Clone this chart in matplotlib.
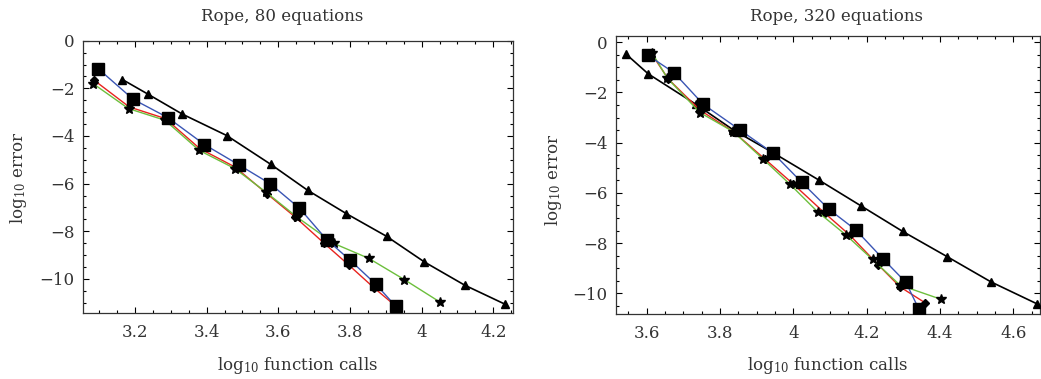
import matplotlib
matplotlib.use("Agg")
import matplotlib.pyplot as plt
from matplotlib.ticker import MultipleLocator

plt.rcParams['font.family'] = ['DejaVu Serif']
plt.rcParams['mathtext.fontset'] = 'dejavuserif'

# Rope, 80 equations
x80_tri = [3.165, 3.237, 3.332, 3.456, 3.579, 3.682, 3.790, 3.902, 4.008, 4.120, 4.234]
y80_tri = [-1.63, -2.25, -3.08, -3.98, -5.19, -6.28, -7.26, -8.21, -9.29, -10.26, -11.07]
x80_sq = [3.097, 3.195, 3.292, 3.394, 3.491, 3.578, 3.659, 3.735, 3.801, 3.872, 3.928]
y80_sq = [-1.17, -2.46, -3.23, -4.36, -5.22, -6.01, -7.03, -8.35, -9.22, -10.22, -11.15]
x80_dia = [3.086, 3.184, 3.285, 3.381, 3.479, 3.568, 3.647, 3.727, 3.797, 3.866, 3.935]
y80_dia = [-1.66, -2.78, -3.27, -4.53, -5.30, -6.42, -7.40, -8.49, -9.42, -10.36, -11.23]
x80_star = [3.083, 3.182, 3.284, 3.379, 3.479, 3.565, 3.652, 3.755, 3.853, 3.952, 4.050]
y80_star = [-1.80, -2.85, -3.34, -4.60, -5.37, -6.35, -7.40, -8.51, -9.14, -10.03, -10.96]

# Rope, 320 equations
x320_tri = [3.544, 3.604, 3.734, 3.836, 3.947, 4.071, 4.184, 4.298, 4.420, 4.539, 4.664]
y320_tri = [-0.48, -1.26, -2.47, -3.49, -4.42, -5.50, -6.51, -7.53, -8.54, -9.54, -10.41]
x320_sq = [3.602, 3.674, 3.754, 3.854, 3.945, 4.023, 4.097, 4.171, 4.245, 4.307, 4.343]
y320_sq = [-0.51, -1.21, -2.47, -3.49, -4.42, -5.58, -6.65, -7.48, -8.63, -9.56, -10.64]
x320_dia = [3.612, 3.659, 3.745, 3.836, 3.923, 4.000, 4.086, 4.154, 4.232, 4.291, 4.359]
y320_dia = [-0.44, -1.47, -2.70, -3.56, -4.66, -5.65, -6.81, -7.68, -8.87, -9.74, -10.37]
x320_star = [3.614, 3.656, 3.745, 3.836, 3.918, 3.991, 4.066, 4.144, 4.216, 4.291, 4.402]
y320_star = [-0.41, -1.43, -2.80, -3.56, -4.66, -5.66, -6.75, -7.68, -8.65, -9.67, -10.23]

titles = ["Rope, 80 equations", "Rope, 320 equations"]

blue = "#3a55b4"
red = "#e8231e"
green = "#6cbf3c"

W, H = 1041, 379
fig = plt.figure(figsize=(W / 100, H / 100), dpi=100)


def px_axes(x0, y0, x1, y1):
    return fig.add_axes([x0 / W, 1 - y1 / H, (x1 - x0) / W, (y1 - y0) / H])


def draw(ax, tri, sq, dia, star):
    ax.plot(*tri, color="black", lw=1.2, marker="^", ms=5.5, mfc="black", mec="black", zorder=3)
    ax.plot(*dia, color=red, lw=1.0, marker="D", ms=4, mfc="black", mec="black", zorder=4)
    ax.plot(*star, color=green, lw=1.0, marker="*", ms=7, mfc="black", mec="black", zorder=5)
    ax.plot(*sq, color=blue, lw=1.0, marker="s", ms=8.5, mfc="black", mec="black", zorder=6)
    ax.xaxis.set_major_locator(MultipleLocator(0.2))
    ax.xaxis.set_minor_locator(MultipleLocator(0.05))
    ax.yaxis.set_major_locator(MultipleLocator(2))
    ax.yaxis.set_minor_locator(MultipleLocator(0.5))
    ax.tick_params(which="both", direction="in", top=True, right=True, labelsize=12, width=0.8,
                   labelcolor="#333333")
    ax.tick_params(which="major", length=4)
    ax.tick_params(which="minor", length=2)
    ax.tick_params(axis="y", pad=6)
    ax.tick_params(axis="x", pad=8)
    ax.xaxis.set_major_formatter(plt.FuncFormatter(lambda v, p: ("%g" % round(v, 2))))
    for s in ax.spines.values():
        s.set_linewidth(0.9)
        s.set_color("#333333")


ax1 = px_axes(83, 40.7, 513, 313)
draw(ax1, (x80_tri, y80_tri), (x80_sq, y80_sq), (x80_dia, y80_dia), (x80_star, y80_star))
ax1.set_xlim(3.055, 4.255)
ax1.set_ylim(-11.43, 0.0)

ax2 = px_axes(616, 35.7, 1040, 314)
draw(ax2, (x320_tri, y320_tri), (x320_sq, y320_sq), (x320_dia, y320_dia), (x320_star, y320_star))
ax2.set_xlim(3.516, 4.673)
ax2.set_ylim(-10.82, 0.26)

fs = 12
tc = "#333333"
fig.text(282.5 / W, 1 - 16.7 / H, titles[0], ha="center", va="center", fontsize=fs, color=tc)
fig.text(836.7 / W, 1 - 16.7 / H, titles[1], ha="center", va="center", fontsize=fs, color=tc)
fig.text(298 / W, 1 - 365 / H, r"log$_{10}$ function calls", ha="center", va="center", fontsize=fs, color=tc)
fig.text(828 / W, 1 - 365 / H, r"log$_{10}$ function calls", ha="center", va="center", fontsize=fs, color=tc)
fig.text(18.5 / W, 1 - 178 / H, r"log$_{10}$ error", ha="center", va="center", rotation=90, fontsize=fs, color=tc)
fig.text(553 / W, 1 - 180 / H, r"log$_{10}$ error", ha="center", va="center", rotation=90, fontsize=fs, color=tc)

fig.savefig("out.png", dpi=100)
